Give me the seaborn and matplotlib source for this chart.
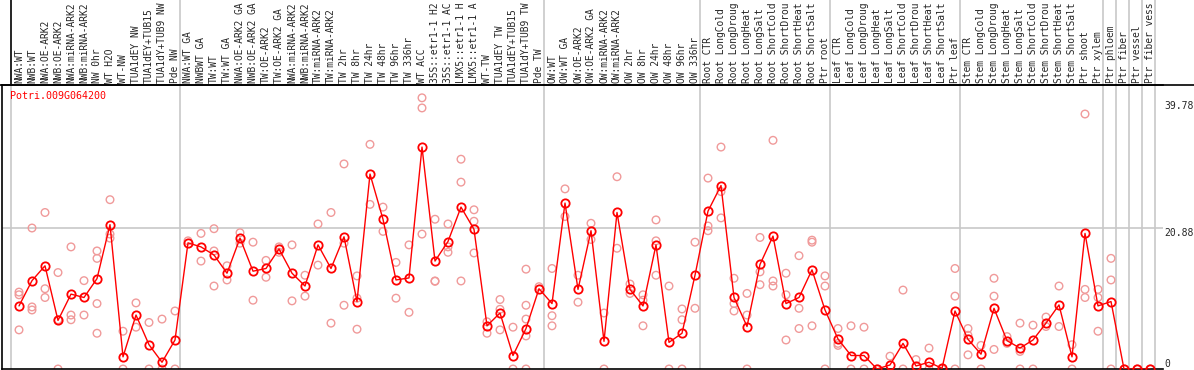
import numpy as np
import pandas as pd
import seaborn as sns
import matplotlib
matplotlib.use("Agg")
import matplotlib.pyplot as plt
import matplotlib.transforms as mtransforms

gene = "Potri.009G064200"

samples = [
    "NWA:WT", "NWB:WT", "NWA:OE-ARK2", "NWB:OE-ARK2", "NWA:miRNA-ARK2", "NWB:miRNA-ARK2",
    "NW 0hr", "WT H2O", "WT-NW", "TUA1dEY NW", "TUA1dEY+TUB15", "TUA1dY+TUB9 NW", "Pde NW",
    "NWA:WT GA", "NWBWT GA", "TW:WT", "TW:WT GA", "NWA:OE-ARK2 GA", "NWB:OE-ARK2 GA",
    "TW:OE-ARK2", "TW:OE-ARK2 GA", "NWA:miRNA-ARK2", "NWB:miRNA-ARK2", "TW:miRNA-ARK2",
    "TW:miRNA-ARK2", "TW 2hr", "TW 8hr", "TW 24hr", "TW 48hr", "TW 96hr", "TW 336hr",
    "WT ACC", "35S::etr1-1 H2", "35S::etr1-1 AC", "LMX5::etr1-1 H", "LMX5::etr1-1 A",
    "WT-TW", "TUA1dEY TW", "TUA1dEY+TUB15", "TUA1dY+TUB9 TW", "Pde TW",
    "OW:WT", "OW:WT GA", "OW:OE-ARK2", "OW:OE-ARK2 GA", "OW:miRNA-ARK2", "OW:miRNA-ARK2",
    "OW 2hr", "OW 8hr", "OW 24hr", "OW 48hr", "OW 96hr", "OW 336hr",
    "Root CTR", "Root LongCold", "Root LongDroug", "Root LongHeat", "Root LongSalt",
    "Root ShortCold", "Root ShortDrou", "Root ShortHeat", "Root ShortSalt", "Ptr root",
    "Leaf CTR", "Leaf LongCold", "Leaf LongDroug", "Leaf LongHeat", "Leaf LongSalt",
    "Leaf ShortCold", "Leaf ShortDrou", "Leaf ShortHeat", "Leaf ShortSalt", "Ptr leaf",
    "Stem CTR", "Stem LongCold", "Stem LongDroug", "Stem LongHeat", "Stem LongSalt",
    "Stem ShortCold", "Stem ShortDrou", "Stem ShortHeat", "Stem ShortSalt",
    "Ptr shoot", "Ptr xylem", "Ptr phloem", "Ptr fiber", "Ptr vessel", "Ptr fiber vess",
]

# number of samples in each block separated by grey lines
group_sizes = [13, 28, 12, 10, 10, 11, 1, 1, 1, 1]

means = [
    9.35, 13.1, 15.3, 7.2, 11.1, 10.6, 13.4, 21.4, 1.8, 8.0, 3.6, 1.0, 4.3,
    18.7, 18.1, 16.9, 14.2, 19.4, 14.5, 14.9, 17.8, 14.2, 12.3, 18.4, 14.9,
    19.6, 10.0, 28.9, 22.2, 13.2, 13.5, 32.9, 16.0, 18.9, 24.0, 20.7,
    6.4, 8.3, 2.0, 6.0, 11.9,
    9.7, 24.6, 11.8, 20.5, 4.1, 23.2, 11.8, 9.35, 18.4, 3.95, 5.3, 13.9,
    23.4, 27.2, 10.6, 6.3, 15.5, 19.7, 9.7, 10.6, 14.7, 8.75,
    4.45, 2.0, 2.0, 0.0, 0.6, 3.8, 0.45, 1.0, 0.1, 8.6,
    4.4, 2.2, 9.0, 4.2, 3.1, 4.3, 6.8, 9.5, 1.8, 20.1, 9.35,
    10.0, 0.0, 0.0, 0.0,
]

replicates = [
    [11.4, 11.0, 5.8], [20.9, 9.2, 8.75], [23.2, 11.9, 10.6], [14.3, 7.3, 0],
    [18.1, 8.0, 7.3], [13.1, 8.0], [17.5, 16.4, 9.7, 5.3], [25.1, 20.0, 19.4],
    [5.6, 0], [9.8, 6.2], [6.9, 0], [7.4, 0], [8.6, 0],
    [19.0], [20.1, 16.0], [20.8, 17.5, 12.3], [15.3, 13.2], [20.2, 18.65],
    [18.8, 10.2], [16.1, 13.6], [18.1, 17.3], [18.4, 10.1], [13.9, 10.8],
    [21.5, 15.4], [23.2, 6.8], [30.4, 18.65, 9.45], [13.8, 10.5, 5.9],
    [33.3, 24.4], [24.0, 20.4], [15.8, 10.5], [18.4, 8.4], [40.2, 38.7, 20.0],
    [22.2, 13.05, 13.0], [21.5, 18.1, 17.3], [31.1, 27.7, 13.05], [23.6, 21.9, 17.2],
    [7.0, 5.3], [10.3, 8.85, 5.8], [6.2, 0], [14.8, 9.45, 7.4, 4.9, 0], [12.2],
    [14.9, 7.9, 6.4], [26.7, 22.6], [13.9, 9.9], [21.6, 19.2], [8.3, 0],
    [28.5, 17.9], [12.6, 11.2], [11.0, 10.2, 6.4], [22.1, 19.0, 13.9], [12.3, 0],
    [8.9, 7.3, 0], [18.8, 9.0],
    [28.3, 21.2, 20.5], [32.9, 26.3, 22.4], [13.45, 9.7, 8.6], [11.2, 8.0, 0],
    [19.5, 14.4, 12.5], [33.9, 13.05, 12.3], [14.2, 11.0, 4.3], [16.8, 9.0, 6.0],
    [19.1, 18.8, 6.4], [13.8, 12.3, 0],
    [6.0, 3.8, 3.5], [6.4, 0], [6.2, 0], [0], [1.9], [11.7, 0], [1.4], [3.1, 0],
    [0], [14.9, 10.8, 0],
    [6.0, 5.0, 2.1], [3.5, 0], [13.45, 10.8, 2.9], [4.8, 3.8], [6.8, 2.6, 0],
    [6.5, 0], [7.7, 6.3], [12.3, 6.3], [3.6, 0], [37.8, 11.8, 10.6],
    [11.8, 10.6, 5.6], [16.4, 13.2, 0], [0], [0], [0],
]

ytick_vals = [39.78, 20.88, 0]

# long-form tables
pos = np.arange(len(samples))
df_mean = pd.DataFrame({"pos": pos, "value": means})
df_rep = pd.DataFrame(
    [(i, v) for i, reps in enumerate(replicates) for v in reps],
    columns=["pos", "value"],
)

W, H = 1194, 370
fig = plt.figure(figsize=(W / 100, H / 100), dpi=100)
ax = fig.add_axes([2 / W, 1 / H, (1163 - 2) / W, (369 - 85) / H])
sns.set_style("white")

mono = "DejaVu Sans Mono"
red = "#ff0000"
pink = "#f09a9a"
grey = "#c8c8c8"

sns.scatterplot(data=df_rep, x="pos", y="value", ax=ax, marker="o", s=30,
                facecolor="none", edgecolor=pink, linewidth=1.0, zorder=2,
                legend=False)
sns.lineplot(data=df_mean, x="pos", y="value", ax=ax, color=red, linewidth=1.0,
             marker="o", markersize=6, markerfacecolor="none",
             markeredgecolor=red, markeredgewidth=1.3, zorder=3)

# xlim chosen to match pixel layout (column width 13 px, first centre at 19 px)
ax.set_xlim((2 - 19) / 13, (1163 - 19) / 13)
ax.set_ylim(0, 42.1)
ax.set_xticks([])
ax.set_yticks([])
ax.set_xlabel("")
ax.set_ylabel("")
for side in ["left", "top", "bottom"]:
    ax.spines[side].set_color("black")
    ax.spines[side].set_linewidth(1.2)
ax.spines["right"].set_visible(False)

# horizontal grid line at middle tick
ax.axhline(ytick_vals[1], color=grey, linewidth=1.2, zorder=1)

trans_top = mtransforms.blended_transform_factory(ax.transData, ax.transAxes)
label_h = 85 / (369 - 85)

# group separators spanning plot and label area
bounds = np.cumsum([0] + group_sizes) - 0.62
for k, b in enumerate(bounds):
    ax.plot([b, b], [0, 1], color=grey, linewidth=1.2, transform=trans_top, zorder=1)
    ax.plot([b, b], [1, 1 + label_h + 0.01], color="black" if k == 0 else grey,
            linewidth=1.2, transform=trans_top, clip_on=False)

# top black line across whole width
fig.add_artist(plt.Line2D([0, 1], [1 - 85 / H, 1 - 85 / H], color="black", linewidth=1.2))

for i, lab in enumerate(samples):
    ax.text(i, 1 + 2 / 284, lab, rotation=90, ha="center", va="bottom",
            family=mono, fontsize=6.9, transform=trans_top, clip_on=False)

ax.text(0.007, 0.96, gene, color=red, family=mono, fontsize=7.2,
        transform=ax.transAxes, ha="left", va="center")

trans_right = mtransforms.blended_transform_factory(ax.transAxes, ax.transData)
for v in ytick_vals:
    ax.text(1.001, v, str(v) if v else "0", family=mono, fontsize=7.0,
            ha="left", va="top" if v else "bottom", transform=trans_right,
            clip_on=False)

fig.savefig("out.png", dpi=100)
